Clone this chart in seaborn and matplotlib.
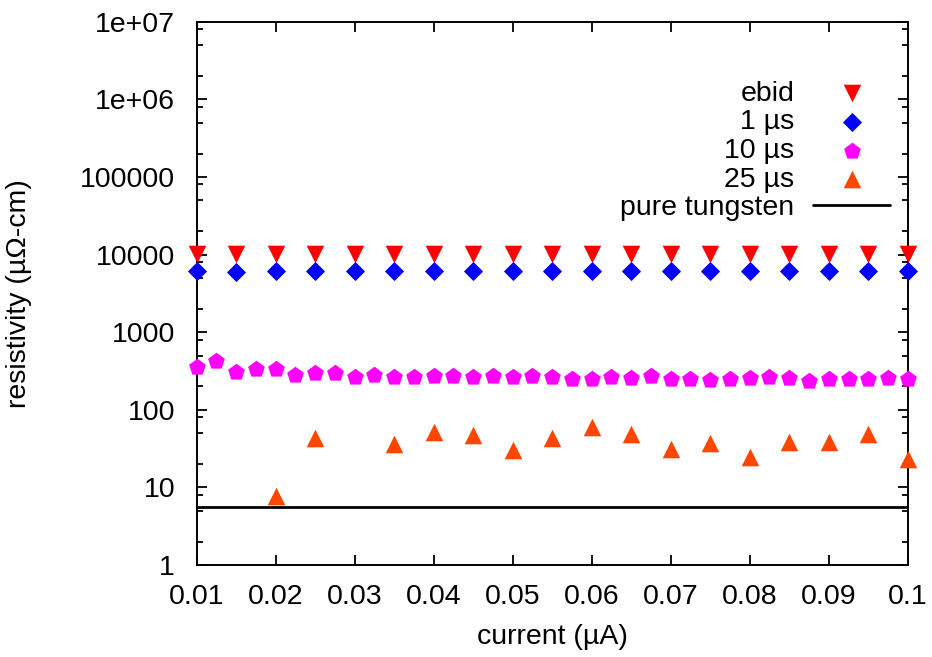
import matplotlib
matplotlib.use("Agg")
import matplotlib.pyplot as plt
import matplotlib.ticker as mticker
import seaborn as sns

# current (uA) and resistivity (uOhm-cm)
ebid_x = [0.01, 0.015, 0.02, 0.025, 0.03, 0.035, 0.04, 0.045, 0.05, 0.055,
          0.06, 0.065, 0.07, 0.075, 0.08, 0.085, 0.09, 0.095, 0.1]
ebid_y = [10300, 10300, 10300, 10300, 10300, 10300, 10300, 10300, 10300, 10300,
          10300, 10300, 10300, 10300, 10300, 10300, 10300, 10300, 10300]

us1_x = [0.01, 0.015, 0.02, 0.025, 0.03, 0.035, 0.04, 0.045, 0.05, 0.055,
         0.06, 0.065, 0.07, 0.075, 0.08, 0.085, 0.09, 0.095, 0.1]
us1_y = [6200, 5900, 6100, 6100, 6100, 6100, 6100, 6100, 6100, 6100,
         6100, 6100, 6100, 6100, 6100, 6100, 6100, 6100, 6100]

us10_x = [0.01, 0.0125, 0.015, 0.0175, 0.02, 0.0225, 0.025, 0.0275, 0.03, 0.0325,
          0.035, 0.0375, 0.04, 0.0425, 0.045, 0.0475, 0.05, 0.0525, 0.055, 0.0575,
          0.06, 0.0625, 0.065, 0.0675, 0.07, 0.0725, 0.075, 0.0775, 0.08, 0.0825,
          0.085, 0.0875, 0.09, 0.0925, 0.095, 0.0975, 0.1]
us10_y = [353, 423, 305, 333, 333, 279, 296, 296, 262, 279,
          262, 262, 270, 270, 262, 270, 262, 270, 262, 248,
          248, 265, 256, 270, 248, 248, 243, 248, 253, 268,
          260, 236, 248, 248, 248, 256, 248]

us25_x = [0.02, 0.025, 0.035, 0.04, 0.045, 0.05, 0.055, 0.06,
          0.065, 0.07, 0.075, 0.08, 0.085, 0.09, 0.095, 0.1]
us25_y = [7.7, 43, 36, 52, 48, 30, 43, 60,
          49, 31, 37, 25, 38, 39, 49, 23]

tungsten = 5.6

x_ticks = [0.01, 0.02, 0.03, 0.04, 0.05, 0.06, 0.07, 0.08, 0.09, 0.1]
y_ticks = [1, 10, 100, 1000, 10000, 100000, 1e6, 1e7]

FS = 20.5

sns.set_style("ticks")
plt.rcParams["font.family"] = ["Liberation Sans", "DejaVu Sans"]
plt.rcParams["font.size"] = FS
plt.rcParams["text.color"] = "black"
plt.rcParams["axes.labelcolor"] = "black"
plt.rcParams["xtick.color"] = "black"
plt.rcParams["ytick.color"] = "black"

fig = plt.figure(figsize=(9.32, 6.57), dpi=100)
ax = fig.add_axes([0.211, 0.140, 0.763, 0.827])

# label, marker, colour, marker area
series = [
    (ebid_x, ebid_y, "ebid", "v", "#ff0000", 160),
    (us1_x, us1_y, "1 \u00b5s", "D", "#0000ff", 95),
    (us10_x, us10_y, "10 \u00b5s", "p", "#ff00ff", 160),
    (us25_x, us25_y, "25 \u00b5s", "^", "#ff4500", 160),
]
for xs, ys, lab, mk, col, sz in series:
    sns.scatterplot(x=xs, y=ys, ax=ax, marker=mk, color=col, s=sz,
                    linewidth=0, label=lab, clip_on=False, zorder=3)

ax.axhline(tungsten, color="black", lw=2, label="pure tungsten", zorder=2)

ax.set_yscale("log")
ax.set_xlim(0.01, 0.1)
ax.set_ylim(1, 1e7)
ax.set_xticks(x_ticks)
ax.xaxis.set_major_formatter(mticker.FuncFormatter(lambda v, p: "%g" % v))
ax.yaxis.set_major_locator(mticker.FixedLocator(y_ticks))
ax.yaxis.set_minor_locator(mticker.LogLocator(base=10, subs=[2, 5, 8], numticks=20))
ax.yaxis.set_major_formatter(mticker.FuncFormatter(lambda v, p: "%g" % v))
ax.yaxis.set_minor_formatter(mticker.NullFormatter())

ax.tick_params(axis="both", which="both", direction="in", top=True, right=True,
               color="black", labelsize=FS, width=1.3)
ax.tick_params(axis="x", which="major", length=7, pad=14)
ax.tick_params(axis="y", which="major", length=7, pad=15.5)
ax.tick_params(axis="y", which="minor", length=4)
for sp in ax.spines.values():
    sp.set_linewidth(1.4)
    sp.set_color("black")

ax.set_xlabel("current (\u00b5A)", fontsize=FS, labelpad=10)
ax.set_ylabel("resistivity (\u00b5\u03a9-cm)", fontsize=FS)
ax.yaxis.set_label_coords(-0.232, 0.5)

leg = ax.legend(loc="upper right", bbox_to_anchor=(0.975, 0.891), frameon=False,
                markerfirst=False, fontsize=FS, handlelength=2.7, handletextpad=0.65,
                labelspacing=0.09, borderpad=0, borderaxespad=0)

fig.savefig("out.png", dpi=100)
